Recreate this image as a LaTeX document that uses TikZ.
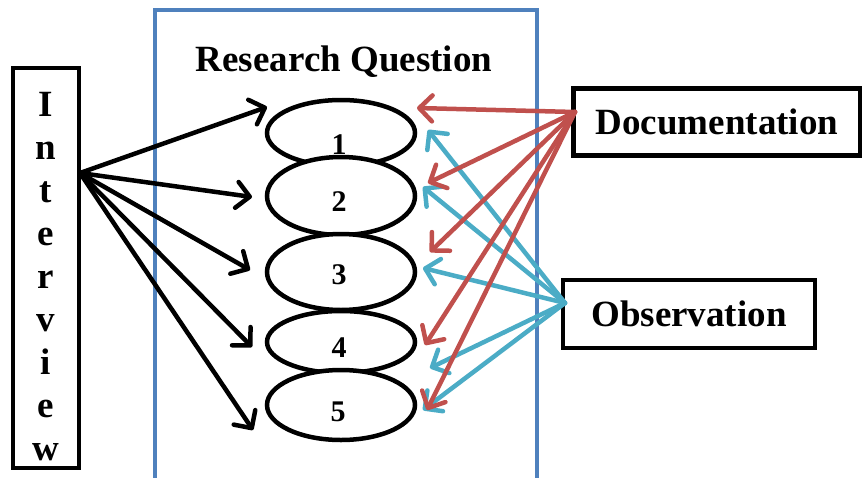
\documentclass[tikz,border=0pt]{standalone}
\usepackage{fontspec}
\setmainfont{Liberation Serif}
\usetikzlibrary{shapes.geometric,arrows.meta}
\definecolor{frameblue}{RGB}{79,129,189}
\definecolor{docred}{RGB}{192,80,77}
\definecolor{obsaqua}{RGB}{75,172,198}

\begin{document}
\begin{tikzpicture}
 [x=1pt,y=-1pt,
  box node/.style={draw,line width=4.5pt,fill=white,inner sep=0pt,font=\fontsize{37}{43}\selectfont\bfseries},
  rq node/.style={ellipse,draw,line width=4.5pt,fill=white,inner sep=0pt,minimum width=148pt},
  num node/.style={inner sep=0pt,font=\fontsize{30}{30}\selectfont\bfseries},
  iv arrow/.style={-{Straight Barb[round,length=13pt,width=26pt]},line width=4.5pt,line cap=round},
  dc arrow/.style={iv arrow,docred},
  ob arrow/.style={iv arrow,obsaqua}]

\useasboundingbox (0,0) rectangle (862,477);
\draw[frameblue, line width=3.5pt] (155,480) -- (155,10) -- (537,10) -- (537,480);

\node[font=\fontsize{37}{37}\selectfont\bfseries] (rq) at (344,62) {Research Question};
\node[box node, minimum width=66pt, minimum height=400pt,
  label={[font=\fontsize{37}{43}\selectfont\bfseries, align=center, yshift=-9pt]center:I\\n\\t\\e\\r\\v\\i\\e\\w}]
  (interview) at (46,268) {};
\node[box node, minimum width=287pt, minimum height=67pt] (doc) at (717,122) {Documentation};
\node[box node, minimum width=252pt, minimum height=68pt] (obs) at (689,314) {Observation};

% research questions
\node[rq node, minimum height=66pt] (q1) at (341,133) {};
\node[rq node, minimum height=78pt] (q2) at (341,196) {};
\node[rq node, minimum height=76pt] (q3) at (341,272) {};
\node[rq node, minimum height=62pt] (q4) at (341,342) {};
\node[rq node, minimum height=70pt] (q5) at (341,405) {};
\node[num node] (n1) at (339,145) {1};
\node[num node] (n2) at (339,202) {2};
\node[num node] (n3) at (339,275) {3};
\node[num node] (n4) at (339,348) {4};
\node[num node] (n5) at (338,412) {5};

% arrow ends
\coordinate (iv) at (80,173);
\coordinate (dc) at (575,112);
\coordinate (ob) at (565,303);
\foreach \n/\x/\y in {1/267/107, 2/252/197, 3/250/270, 4/252/347, 5/253/430}
  \coordinate (i\n) at (\x,\y);
\foreach \n/\x/\y in {1/417/108, 2/428/183, 3/430/252, 4/425/345, 5/427/410}
  \coordinate (d\n) at (\x,\y);
\foreach \n/\x/\y in {1/428/130, 2/423/187, 3/423/268, 4/430/368, 5/423/410}
  \coordinate (o\n) at (\x,\y);

\path
  (iv) edge [iv arrow] (i1)
  (iv) edge [iv arrow] (i2)
  (iv) edge [iv arrow] (i3)
  (iv) edge [iv arrow] (i4)
  (iv) edge [iv arrow] (i5)
  (ob) edge [ob arrow] (o1)
  (ob) edge [ob arrow] (o2)
  (ob) edge [ob arrow] (o3)
  (ob) edge [ob arrow] (o4)
  (ob) edge [ob arrow] (o5)
  (dc) edge [dc arrow] (d1)
  (dc) edge [dc arrow] (d2)
  (dc) edge [dc arrow] (d3)
  (dc) edge [dc arrow] (d4)
  (dc) edge [dc arrow] (d5);

\end{tikzpicture}
\end{document}
